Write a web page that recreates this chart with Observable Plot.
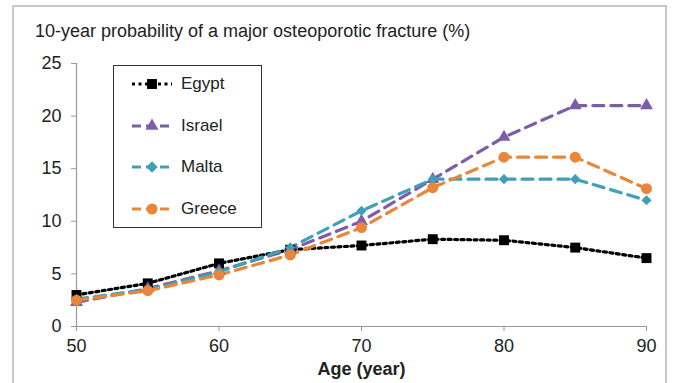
<!DOCTYPE html>
<html>
<head>
<meta charset="utf-8">
<script src="https://cdn.jsdelivr.net/npm/d3@7"></script>
<script src="https://cdn.jsdelivr.net/npm/@observablehq/plot@0.6"></script>
<style>
  html, body { margin: 0; padding: 0; background: #fff; overflow: hidden; }
  #wrap { position: relative; width: 673px; height: 383px; overflow: hidden; font-family: "Liberation Sans", Arial, sans-serif; }
  #frame { position: absolute; left: 12px; top: 5px; width: 655px; height: 400px; border: 2px solid #c9c9c9; box-sizing: border-box; }
  #title { position: absolute; left: 35px; top: 22px; font-size: 18px; line-height: 18px; color: #222; white-space: nowrap; }
  #legend { position: absolute; left: 113px; top: 65px; width: 149px; height: 163px; border: 1.3px solid #333; box-sizing: border-box; background: #fff; }
  .lg { position: absolute; left: 17px; height: 20px; display: flex; align-items: center; font-size: 17px; color: #222; }
  .lg svg { margin-right: 8px; }
  #chart { position: absolute; left: 0; top: 0; }
</style>
</head>
<body>
<div id="wrap">
  <div id="frame"></div>
  <div id="chart"></div>
  <div id="title">10-year probability of a major osteoporotic fracture (%)</div>
  <div id="legend"></div>
</div>
<script>
const ages = [50, 55, 60, 65, 70, 75, 80, 85, 90];
const seriesNames = ["Egypt", "Israel", "Malta", "Greece"];
const egypt  = [3.0, 4.1, 6.0, 7.3, 7.7, 8.3, 8.2, 7.5, 6.5];
const israel = [2.3, 3.6, 5.3, 7.3, 10.0, 14.0, 18.0, 21.0, 21.0];
const malta  = [2.6, 3.5, 5.2, 7.5, 11.0, 14.0, 14.0, 14.0, 12.0];
const greece = [2.5, 3.4, 4.9, 6.8, 9.4, 13.2, 16.1, 16.1, 13.1];
const xTicks = [50, 60, 70, 80, 90];
const yTicks = [0, 5, 10, 15, 20, 25];
const xLabel = "Age (year)";

const styles = {
  Egypt:  {color: "#000000", symbol: "square",   r: 5.6, dash: "3,3.5",  width: 3.2},
  Israel: {color: "#7b5ea7", symbol: "triangle", r: 4.8, dash: "11,7",   width: 3.2},
  Malta:  {color: "#3f9fb6", symbol: "diamond2", r: 4.6, dash: "11,7",   width: 3.2},
  Greece: {color: "#e8873a", symbol: "circle",   r: 5.5, dash: "11,7",   width: 3.2}
};
const values = {Egypt: egypt, Israel: israel, Malta: malta, Greece: greece};

const rows = [];
for (const s of seriesNames) values[s].forEach((v, i) => rows.push({series: s, age: ages[i], value: v}));

const marks = [
  Plot.ruleY([0], {stroke: "#999", strokeWidth: 1.2}),
  Plot.ruleX([50], {stroke: "#999", strokeWidth: 1.2}),
  Plot.axisX({ticks: xTicks, tickSize: 5, tickPadding: 8, fontSize: 18, stroke: "#999", fill: "#222", label: null, tickFormat: d => String(d)}),
  Plot.axisY({ticks: yTicks, tickSize: 5, tickPadding: 10, fontSize: 18, stroke: "#999", fill: "#222", label: null}),
];
for (const s of seriesNames) {
  const st = styles[s];
  const data = rows.filter(d => d.series === s);
  marks.push(Plot.line(data, {x: "age", y: "value", stroke: st.color, strokeWidth: st.width, strokeDasharray: st.dash, curve: "linear"}));
}
for (const s of seriesNames) {
  const st = styles[s];
  const data = rows.filter(d => d.series === s);
  marks.push(Plot.dot(data, {x: "age", y: "value", fill: st.color, stroke: "none", symbol: st.symbol, r: st.r}));
}
marks.push(Plot.text([xLabel], {frameAnchor: "bottom", dy: 48, text: d => d, fontSize: 18, fontWeight: "bold", fill: "#222"}));

const chart = Plot.plot({
  width: 673, height: 383,
  marginLeft: 76, marginRight: 27, marginTop: 63, marginBottom: 57,
  style: {fontFamily: "'Liberation Sans', Arial, sans-serif", background: "transparent", overflow: "visible"},
  x: {domain: [50, 90]},
  y: {domain: [0, 25]},
  marks
});
document.getElementById("chart").appendChild(chart);

// legend
const legend = document.getElementById("legend");
const symMap = {square: d3.symbolSquare, triangle: d3.symbolTriangle, diamond2: d3.symbolSquare, circle: d3.symbolCircle};
seriesNames.forEach((s, i) => {
  const st = styles[s];
  const item = document.createElement("div");
  item.className = "lg";
  item.style.top = (8 + i * 41.5) + "px";
  const svg = d3.create("svg").attr("width", 42).attr("height", 20);
  svg.append("line").attr("x1", 1).attr("x2", 41).attr("y1", 10).attr("y2", 10)
    .attr("stroke", st.color).attr("stroke-width", st.width)
    .attr("stroke-dasharray", s === "Egypt" ? "3,3.5" : "9,5");
  const size = Math.PI * st.r * st.r;
  svg.append("path").attr("d", d3.symbol(symMap[st.symbol], size)())
    .attr("transform", `translate(21,10)${st.symbol === "diamond2" ? " rotate(45)" : ""}`)
    .attr("fill", st.color);
  item.appendChild(svg.node());
  const t = document.createElement("span");
  t.textContent = s;
  item.appendChild(t);
  legend.appendChild(item);
});
</script>
</body>
</html>
